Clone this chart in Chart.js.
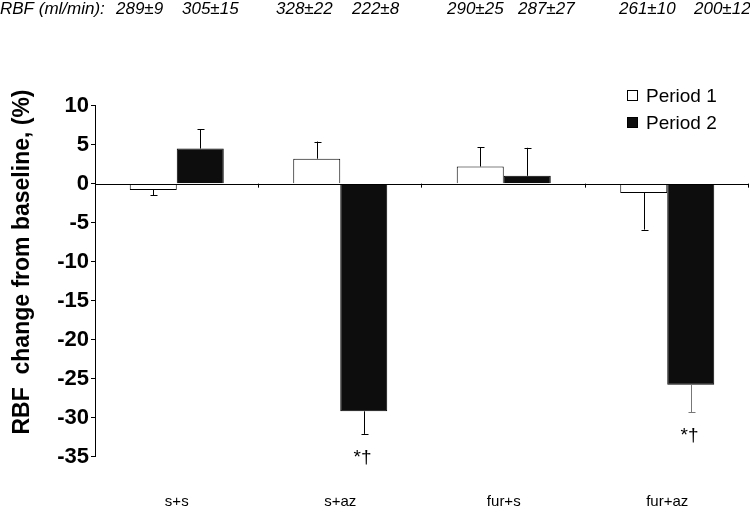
<!DOCTYPE html>
<html>
<head>
<meta charset="utf-8">
<script src="https://cdn.jsdelivr.net/npm/chart.js@4"></script>
<style>
  body { margin: 0; background: #fff; }
  #wrap { width: 750px; height: 509px; }
</style>
</head>
<body>
<div id="wrap"><canvas id="myChart" width="750" height="509"></canvas></div>
<script>
// data
const groups = ['s+s', 's+az', 'fur+s', 'fur+az'];
const period1 = [-0.8, 3.2, 2.2, -1.2];
const period1Err = [0.7, 2.2, 2.5, 4.7];
const period2 = [4.5, -29.2, 1.0, -25.8];
const period2Err = [2.5, 2.9, 3.6, 3.5];
const sigMarks = [['', ''], ['', '*\u2020'], ['', ''], ['', '*\u2020']]; // [p1, p2]
const rbfLabels = ['289\u00b19', '305\u00b115', '328\u00b122', '222\u00b18', '290\u00b125', '287\u00b127', '261\u00b110', '200\u00b112'];
const rbfX = [116, 182, 276, 352, 447, 518, 619, 694];

const ARIAL = 'Arial, "Liberation Sans", sans-serif';

// error bars, zero line, legend, top line and axis title
const extras = {
  id: 'extras',
  afterDatasetsDraw(chart) {
    const ctx = chart.ctx;
    const y = chart.scales.y;
    const x = chart.scales.x;
    const area = chart.chartArea;
    const y0 = y.getPixelForValue(0);

    ctx.save();
    // zero line + category ticks
    ctx.strokeStyle = '#000';
    ctx.lineWidth = 1;
    ctx.beginPath();
    ctx.moveTo(area.left, Math.round(y0) + 0.5);
    ctx.lineTo(area.right, Math.round(y0) + 0.5);
    const cw = x.width / groups.length;
    for (let i = 0; i < groups.length; i++) {
      const bx = Math.round(x.getPixelForTick(i) + cw / 2) - 0.5;
      ctx.moveTo(bx, y0);
      ctx.lineTo(bx, y0 + 4);
    }
    ctx.stroke();

    // error bars
    const errs = [period1Err, period2Err];
    chart.data.datasets.forEach((ds, di) => {
      const meta = chart.getDatasetMeta(di);
      meta.data.forEach((bar, i) => {
        const v = ds.data[i];
        const e = errs[di][i];
        const end = v >= 0 ? v + e : v - e;
        const yv = y.getPixelForValue(v);
        const ye = y.getPixelForValue(end);
        const bx = Math.round(bar.x) + 0.5;
        ctx.strokeStyle = (di === 1 && i === 3) ? '#777' : '#000';
        ctx.beginPath();
        ctx.moveTo(bx, yv);
        ctx.lineTo(bx, ye);
        ctx.moveTo(bx - 3, Math.round(ye) + 0.5);
        ctx.lineTo(bx + 4, Math.round(ye) + 0.5);
        ctx.stroke();

        const mark = sigMarks[i][di];
        if (mark) {
          ctx.fillStyle = '#000';
          ctx.font = '19px ' + ARIAL;
          ctx.textAlign = 'center';
          ctx.textBaseline = 'middle';
          ctx.fillText(mark, bx - 2, ye + 24);
        }
      });
    });

    // legend
    ctx.font = '19px ' + ARIAL;
    ctx.textAlign = 'left';
    ctx.textBaseline = 'middle';
    chart.data.datasets.forEach((ds, di) => {
      const ly = 96 + di * 27;
      ctx.fillStyle = ds.backgroundColor;
      ctx.fillRect(627, ly - 5, 10, 10);
      ctx.strokeStyle = '#000';
      ctx.strokeRect(627.5, ly - 5.5, 10, 10);
      ctx.fillStyle = '#000';
      ctx.fillText(ds.label, 646, ly + 1);
    });

    // top RBF line
    ctx.font = 'italic 17px ' + ARIAL;
    ctx.fillStyle = '#000';
    ctx.textBaseline = 'middle';
    ctx.fillText('RBF (ml/min):', 0, 9);
    rbfLabels.forEach((t, i) => ctx.fillText(t, rbfX[i], 9));

    // y axis title
    ctx.font = 'bold 23px ' + ARIAL;
    ctx.translate(23, 262);
    ctx.rotate(-Math.PI / 2);
    ctx.textAlign = 'center';
    ctx.fillText('RBF  change from baseline, (%)', 0, 0);
    ctx.restore();
  }
};

new Chart(document.getElementById('myChart'), {
  type: 'bar',
  data: {
    labels: groups,
    datasets: [
      { label: 'Period 1', data: period1, backgroundColor: '#ffffff', borderColor: '#000', borderWidth: 1 },
      { label: 'Period 2', data: period2, backgroundColor: '#0d0d0d', borderColor: '#000', borderWidth: 1 }
    ]
  },
  options: {
    responsive: false,
    animation: false,
    categoryPercentage: 0.575,
    barPercentage: 1.0,
    layout: { padding: { top: 105.7, right: 1, bottom: 0, left: 0 } },
    plugins: { legend: { display: false }, tooltip: { enabled: false } },
    scales: {
      x: {
        grid: { display: false, drawTicks: false },
        border: { display: false },
        ticks: { color: '#000', font: { size: 15, family: ARIAL }, padding: 36 },
        afterFit: s => { s.height = 52.5; }
      },
      y: {
        min: -35,
        max: 10,
        ticks: { stepSize: 5, color: '#000', padding: 2, font: { size: 22, weight: 'bold', family: ARIAL } },
        grid: { drawOnChartArea: false, color: '#000', tickLength: 4 },
        border: { display: true, color: '#000', width: 1 },
        afterFit: s => { s.width = 95; }
      }
    }
  },
  plugins: [extras]
});
</script>
</body>
</html>
